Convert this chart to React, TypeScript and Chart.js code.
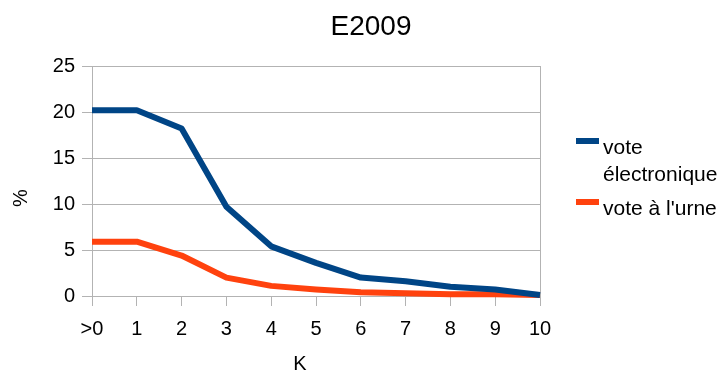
import React, { useEffect, useRef } from "react";
import { Chart, registerables } from "chart.js";

Chart.register(...registerables);

const categories = [">0", "1", "2", "3", "4", "5", "6", "7", "8", "9", "10"];
const electronique = [20.2, 20.2, 18.2, 9.7, 5.4, 3.6, 2.0, 1.6, 1.0, 0.7, 0.1];
const urne = [5.9, 5.9, 4.4, 2.0, 1.1, 0.7, 0.4, 0.3, 0.2, 0.2, 0.1];
const seriesNames = ["vote électronique", "vote à l'urne"];
const legendLines = [["vote", "électronique"], ["vote à l'urne"]];
const colors = ["#004586", "#ff420e"];
const yTicks = [0, 5, 10, 15, 20, 25];
const xTitle = "K";
const yTitle = "%";

const FONT = "'Liberation Sans', Arial, sans-serif";

const axisTitles = {
  id: "axisTitles",
  afterDraw(chart: any) {
    const { ctx } = chart;
    ctx.save();
    ctx.fillStyle = "#000";
    ctx.font = `20px ${FONT}`;
    ctx.textAlign = "center";
    ctx.textBaseline = "middle";
    ctx.fillText(xTitle, 300, 364);
    ctx.translate(21, 198);
    ctx.rotate(-Math.PI / 2);
    ctx.fillText(yTitle, 0, 0);
    ctx.restore();
  },
};

export default function App() {
  const ref = useRef<HTMLCanvasElement>(null);
  useEffect(() => {
    const ctx = ref.current!;
    const chart = new Chart(ctx, {
      type: "line",
      data: {
        labels: categories,
        datasets: [
          { label: seriesNames[0], data: electronique, borderColor: colors[0], backgroundColor: colors[0], borderWidth: 6, pointRadius: 0, tension: 0, clip: false, borderJoinStyle: "round" },
          { label: seriesNames[1], data: urne, borderColor: colors[1], backgroundColor: colors[1], borderWidth: 6, pointRadius: 0, tension: 0, clip: false, borderJoinStyle: "round" },
        ],
      },
      plugins: [axisTitles],
      options: {
        responsive: false,
        animation: false,
        layout: { padding: { left: 21, right: 0, top: 0, bottom: 0 } },
        plugins: {
          legend: { display: false },
          tooltip: { enabled: false },
          title: {
            display: true,
            text: "E2009",
            color: "#000",
            font: { family: FONT, size: 28, weight: "normal" },
            padding: { top: 10, bottom: 22.4 },
          },
        },
        scales: {
          x: {
            offset: false,
            grid: { drawOnChartArea: false, drawTicks: true, tickLength: 10, color: "#b3b3b3" },
            border: { color: "#b3b3b3" },
            ticks: { color: "#000", font: { family: FONT, size: 20 }, padding: 11, maxRotation: 0, autoSkip: false },
            afterFit: (s: any) => { s.height = 78; },
          },
          y: {
            min: 0,
            max: 25,
            afterBuildTicks: (s: any) => { s.ticks = yTicks.map((v) => ({ value: v })); },
            grid: { color: "#b3b3b3", tickLength: 10 },
            border: { color: "#b3b3b3" },
            ticks: { color: "#000", font: { family: FONT, size: 20 }, padding: 7 },
            afterFit: (s: any) => { s.width = 71; },
          },
          y2: {
            position: "right",
            min: 0,
            max: 25,
            grid: { display: false },
            border: { display: true, color: "#b3b3b3" },
            ticks: { display: false },
            afterFit: (s: any) => { s.width = 181; },
          },
        },
      },
    });
    return () => chart.destroy();
  }, []);

  return (
    <div style={{ position: "fixed", left: 0, top: 0, width: 721, height: 374, background: "#fff" }}>
      <canvas ref={ref} width={721} height={374} style={{ display: "block" }} />
      {legendLines.map((lines, i) => (
        <div key={i} style={{ position: "absolute", left: 576, top: i === 0 ? 133 : 194, display: "flex", alignItems: "flex-start", fontFamily: FONT, fontSize: 21, lineHeight: "27px", color: "#000", whiteSpace: "nowrap" }}>
          <div style={{ width: 23, height: 6, background: colors[i], marginTop: 4.5, marginRight: 4 }} />
          <div>{lines.map((l, j) => <div key={j}>{l}</div>)}</div>
        </div>
      ))}
    </div>
  );
}
